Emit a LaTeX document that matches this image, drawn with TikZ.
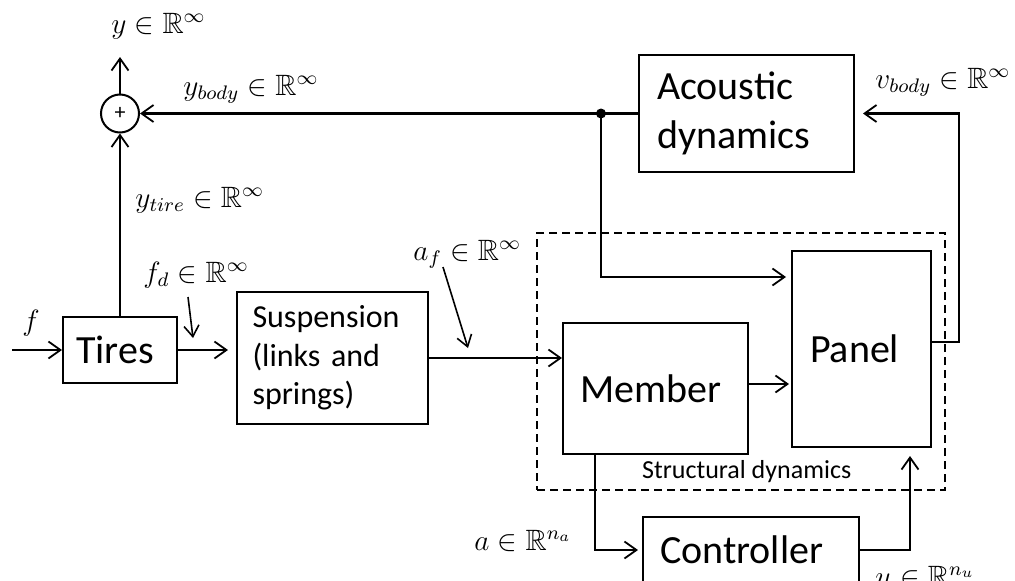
\documentclass[tikz,border=0pt]{standalone}
\usepackage{amssymb}
\usepackage{fontspec}
\setmainfont{Carlito}
\usetikzlibrary{arrows.meta}

\begin{document}
\begin{tikzpicture}[x=1pt,y=-1pt,
  blk/.style={draw, line width=2pt, inner ysep=0pt, align=left,
    font=\fontsize{40}{49}\selectfont},
  wire/.style={line width=2.1pt},
  arr/.style={wire, -{Straight Barb[length=12pt,width=17pt,line width=1.8pt]}},
  ptr/.style={line width=1.6pt, -{Straight Barb[length=11pt,width=15pt,line width=1.6pt]}},
  lbl/.style={anchor=base west, inner sep=0pt, font=\fontsize{12}{14}\selectfont,
    scale=2.45, transform shape},
  groupbox/.style={draw, line width=1.6pt, dash pattern=on 8pt off 5pt},
]
\useasboundingbox (0,0) rectangle (1015,581);

% blocks
\node[blk, minimum height=66pt, text width=88pt, inner xsep=13pt] (tires) at (120,350) {Tires};
\node[blk, minimum height=132pt, text width=160pt, inner xsep=15.5pt,
  font=\fontsize{32}{38.5}\selectfont] (susp) at (332.5,358) {Suspension\\(links and\\springs)};
\node[blk, minimum height=117pt, text width=179pt, inner xsep=18pt] (acou) at (746.5,113.5) {Acoustic\\dynamics};
\node[blk, minimum height=131pt, text width=151pt, inner xsep=17pt] (member) at (655.5,388.5) {Member};
\node[blk, minimum height=196pt, text width=103pt, inner xsep=18pt] (panel) at (861.5,349) {Panel};
\node[blk, minimum height=66pt, text width=182pt, inner xsep=17pt] (ctrl) at (751,550) {Controller};

% structural dynamics group
\node[groupbox, minimum width=408pt, minimum height=257pt] (sd) at (741,361.5) {};
\node[anchor=base west, inner sep=0pt, font=\fontsize{26}{30}\selectfont] (sdl) at (642,478) {Structural dynamics};

% summing junction
\node[draw, circle, line width=2pt, minimum size=38pt, inner sep=0pt,
  font=\fontsize{22}{22}\selectfont] (sum) at (120,113.5) {+};

% helper points
\coordinate (fin) at (12,350);
\coordinate (yout) at (120,57);
\coordinate (jn) at (601,113.5);
\coordinate (lvlA) at (0,277);
\coordinate (lvlB) at (0,384);
\coordinate (po) at (959,342);
\coordinate (ma) at (595,0);
\coordinate (ua) at (910,0);
\coordinate (fdA) at (188,297);
\coordinate (fdB) at (193,338);
\coordinate (afA) at (443,267);
\coordinate (afB) at (468,348);

% signal paths
\draw[arr] (fin) -- (tires.west);
\draw[arr, shorten >=8pt] (tires.east) -- (tires.east -| susp.west);
\draw[arr] (tires.north) -- (sum.south);
\draw[arr] (sum.north) -- (yout);
\draw[wire] (acou.west) -- (jn);
\draw[arr] (jn) -- (sum.east);
\fill (jn) circle (5pt);
\draw[arr, shorten >=5pt] (jn) |- (panel.west |- lvlA);
\draw[arr] (susp.east) -- (susp.east -| member.west);
\draw[arr, shorten >=2pt] (member.east |- lvlB) -- (panel.west |- lvlB);
\draw[arr, shorten >=8pt] (panel.east |- po) -- (po) |- (acou.east);
\draw[arr, shorten >=4pt] (member.south -| ma) |- (ctrl.west);
\draw[arr, shorten >=8pt] (ctrl.east) -| (panel.south -| ua);

% label pointers
\draw[ptr] (fdA) -- (fdB);
\draw[ptr] (afA) -- (afB);

% signal labels
\node[lbl] at (22,330) {$f$};
\node[lbl] at (143,282) {$f_d\in\mathbb{R}^\infty$};
\node[lbl] at (111,33) {$y\in\mathbb{R}^\infty$};
\node[lbl] at (183,95) {$y_{body}\in\mathbb{R}^\infty$};
\node[lbl] at (135,207) {$y_{tire}\in\mathbb{R}^\infty$};
\node[lbl] at (413,260) {$a_f\in\mathbb{R}^\infty$};
\node[lbl] at (875,88) {$v_{body}\in\mathbb{R}^\infty$};
\node[lbl] at (474,550) {$a\in\mathbb{R}^{n_a}$};
\node[lbl] at (875,586) {$u\in\mathbb{R}^{n_u}$};
\end{tikzpicture}
\end{document}
